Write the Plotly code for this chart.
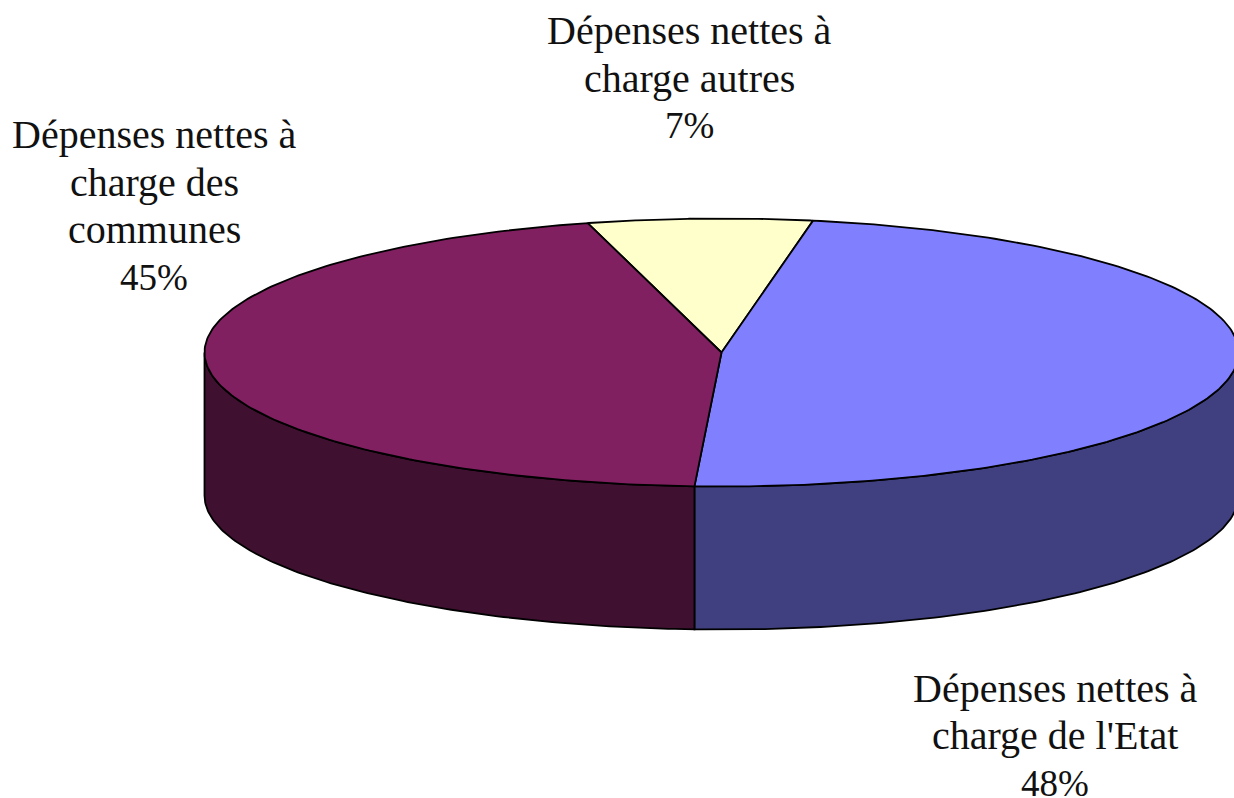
import numpy as np
import plotly.graph_objects as go

categories = [
    ["Dépenses nettes à", "charge autres"],
    ["Dépenses nettes à", "charge de l'Etat"],
    ["Dépenses nettes à", "charge des", "communes"],
]
values = [7, 48, 45]
top_colors = ["#FFFFCC", "#8080FF", "#802060"]
side_colors = ["#808066", "#404080", "#401030"]
label_x = [689, 1055, 154]
label_top_y = [30.5, 688, 134.5]
LINE_H = 47.5

CX, CY, RX, RY, DEPTH = 721.5, 352.5, 517, 134, 143
START = -15.0  # degrees clockwise from top
LW = 1.8


def ell(a, dz=0):
    r = np.radians(a)
    return CX + RX * np.sin(r), CY - RY * np.cos(r) + dz


fig = go.Figure()
edges = START + np.concatenate([[0], np.cumsum(values)]) * 3.6

# side walls (only the front half of the ellipse is visible)
for i in range(len(values)):
    a0, a1 = max(edges[i], 90), min(edges[i + 1], 270)
    if a1 <= a0:
        continue
    t = np.linspace(a0, a1, 120)
    x1, y1 = ell(t)
    x2, y2 = ell(t[::-1], DEPTH)
    fig.add_trace(go.Scatter(x=np.r_[x1, x2, x1[0]], y=np.r_[y1, y2, y1[0]], mode="lines", fill="toself",
                             fillcolor=side_colors[i], line=dict(color="black", width=LW), hoverinfo="skip"))
# top faces
for i in range(len(values)):
    t = np.linspace(edges[i], edges[i + 1], 200)
    x, y = ell(t)
    fig.add_trace(go.Scatter(x=np.r_[CX, x, CX], y=np.r_[CY, y, CY], mode="lines", fill="toself",
                             fillcolor=top_colors[i], line=dict(color="black", width=LW), hoverinfo="skip"))

for lines, v, px, py in zip(categories, values, label_x, label_top_y):
    for k, txt in enumerate(lines + [f"{v}%"]):
        is_pct = k == len(lines)
        fig.add_annotation(x=px, y=py + k * LINE_H, xref="x", yref="y", text=txt, showarrow=False,
                           align="center", xanchor="center", yanchor="middle",
                           font=dict(family="Liberation Serif", size=37 if is_pct else 40, color="#111111"))

fig.update_layout(width=1234, height=798, margin=dict(l=0, r=0, t=0, b=0), showlegend=False,
                  paper_bgcolor="white", plot_bgcolor="white",
                  xaxis=dict(range=[0, 1234], visible=False),
                  yaxis=dict(range=[798, 0], visible=False))
fig.write_html("out.html", config={"displayModeBar": False},
               post_script="document.body.style.margin='0';document.body.style.overflow='hidden';")
